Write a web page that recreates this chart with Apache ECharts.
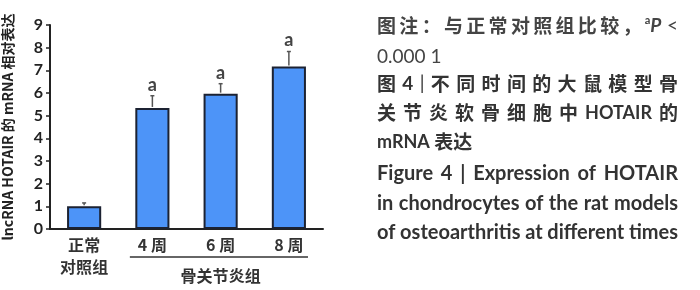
<!DOCTYPE html>
<html>
<head>
<meta charset="utf-8">
<script src="https://cdn.jsdelivr.net/npm/echarts@6/dist/echarts.min.js"></script>
<style>
  html, body { margin: 0; padding: 0; background: #fff; }
  #main { width: 700px; height: 290px; }
</style>
</head>
<body>
<div id="main"></div>
<script>
// 数据
const categories = ['正常\n对照组', '4 周', '6 周', '8 周'];
const means = [1.0, 5.34, 5.97, 7.17];
const errUp = [0.15, 0.54, 0.44, 0.66];
const sigMarks = ['', 'a', 'a', 'a'];
const groupLabel = '骨关节炎组';
const yName = 'lncRNA HOTAIR 的 mRNA 相对表达';

const CJK = '"Noto Sans CJK SC", sans-serif';
const LAT = 'Lato, "Open Sans", sans-serif';

// 测量文字宽度
const mctx = document.createElement('canvas').getContext('2d');
function measure(text, weight, size, family) {
  mctx.font = weight + ' ' + size + 'px ' + family;
  return mctx.measureText(text).width;
}

// 两端对齐一行文字，每个 token 由若干 part 组成
function justifyLine(tokens, x0, width, y, justify) {
  const els = [];
  const widths = tokens.map(t => t.reduce((s, p) => s + measure(p.text, p.weight, p.size, p.family), 0));
  const total = widths.reduce((a, b) => a + b, 0);
  let gap = justify && tokens.length > 1 ? (width - total) / (tokens.length - 1) : 0;
  if (justify) gap = Math.max(gap, 3);
  let x = x0;
  tokens.forEach((t, i) => {
    let px = x;
    t.forEach(p => {
      els.push({
        type: 'text',
        x: px,
        y: y + (p.dy || 0),
        style: {
          text: p.text,
          fontSize: p.size,
          fontWeight: p.weight,
          fontStyle: p.italic ? 'italic' : 'normal',
          fontFamily: p.family,
          fill: p.fill,
          align: 'left',
          verticalAlign: 'middle'
        }
      });
      px += measure(p.text, p.weight, p.size, p.family);
    });
    x += widths[i] + gap;
  });
  return els;
}

const CS = 19;   // 中文图注字号
const ES = 20;   // 英文图注字号
function cjkTokens(str, weight, fill) {
  return str.split('').filter(c => c !== ' ').map(c => [{ text: c, weight: weight, size: CS, family: CJK, fill: fill }]);
}
function wordTokens(str) {
  return str.split(' ').map(w => [{ text: w, weight: 'bold', size: ES, family: LAT, fill: '#333' }]);
}

const capX = 377, capW = 301;
let caption = [];
// 第一行
const line1 = cjkTokens('图注：与正常对照组比较，', 'bold', '#444');
line1.push([
  { text: 'a', weight: 'bold', size: 11, family: LAT, fill: '#444', dy: -6 },
  { text: 'P', weight: 'bold', size: 19, family: LAT, fill: '#444', italic: true },
  { text: ' <', weight: 'normal', size: 19, family: LAT, fill: '#444' }
]);
caption = caption.concat(justifyLine(line1, capX, capW, 26, true));
caption = caption.concat(justifyLine([[{ text: '0.000 1', weight: 'normal', size: 19, family: LAT, fill: '#444' }]], capX, capW, 57, false));
const line3 = [[{ text: '图', weight: 'bold', size: CS, family: CJK, fill: '#333' }],
  [{ text: '4', weight: 'bold', size: CS, family: LAT, fill: '#333' }],
  [{ text: '|', weight: 'normal', size: CS, family: LAT, fill: '#333' }]].concat(cjkTokens('不同时间的大鼠模型骨', 'bold', '#333'));
caption = caption.concat(justifyLine(line3, capX, capW, 84, true));
const line4 = cjkTokens('关节炎软骨细胞中', 'bold', '#333');
line4.push([{ text: 'HOTAIR', weight: 'bold', size: 18, family: LAT, fill: '#333' }]);
line4.push([{ text: '的', weight: 'bold', size: CS, family: CJK, fill: '#333' }]);
caption = caption.concat(justifyLine(line4, capX, capW, 113, true));
caption = caption.concat(justifyLine([[{ text: 'mRNA ', weight: 'bold', size: 18, family: LAT, fill: '#333' },
  { text: '表达', weight: 'bold', size: CS, family: CJK, fill: '#333' }]], capX, capW, 142, false));
caption = caption.concat(justifyLine(wordTokens('Figure 4 | Expression of HOTAIR'), capX, capW, 174, true));
caption = caption.concat(justifyLine(wordTokens('in chondrocytes of the rat models'), capX, capW, 204, true));
caption = caption.concat(justifyLine(wordTokens('of osteoarthritis at different times'), capX, capW, 233, true));

const chart = echarts.init(document.getElementById('main'), null, { renderer: 'canvas' });

chart.setOption({
  animation: false,
  grid: { left: 50, right: 377, top: 25, bottom: 61, containLabel: false },
  xAxis: {
    type: 'category',
    data: categories,
    axisLine: { lineStyle: { color: '#222', width: 2 } },
    axisTick: { alignWithLabel: true, length: 4, lineStyle: { color: '#222', width: 1.5 } },
    axisLabel: {
      color: '#333', fontSize: 16, fontWeight: 'bold', fontFamily: CJK,
      margin: 5, lineHeight: 22, interval: 0
    }
  },
  yAxis: {
    type: 'value',
    min: 0, max: 9, interval: 1,
    name: yName,
    nameLocation: 'middle',
    nameRotate: 90,
    nameGap: 35,
    nameTextStyle: { color: '#222', fontSize: 14, fontWeight: 'bold', fontFamily: CJK },
    axisLine: { show: true, lineStyle: { color: '#222', width: 2 } },
    axisTick: { show: true, length: 4, lineStyle: { color: '#222', width: 1.5 } },
    axisLabel: { color: '#222', fontSize: 16, fontWeight: 'bold', fontFamily: LAT, margin: 7 },
    splitLine: { show: false }
  },
  series: [
    {
      type: 'bar',
      data: means,
      barWidth: '50%',
      itemStyle: { color: '#4d94f8', borderColor: '#1c2232', borderWidth: 2 },
      z: 2
    },
    {
      // 误差线 + 显著性标记
      type: 'custom',
      data: means.map((m, i) => [i, m, m + errUp[i]]),
      z: 3,
      renderItem: function (params, api) {
        const top = api.coord([api.value(0), api.value(2)]);
        const base = api.coord([api.value(0), api.value(1)]);
        const idx = params.dataIndex;
        const children = [
          { type: 'line', shape: { x1: top[0], y1: base[1] - 1, x2: top[0], y2: top[1] },
            style: { stroke: '#555', lineWidth: 1.5 } },
          { type: 'line', shape: { x1: top[0] - 2, y1: top[1], x2: top[0] + 2, y2: top[1] },
            style: { stroke: '#555', lineWidth: 1.5 } }
        ];
        if (sigMarks[idx]) {
          children.push({ type: 'text', x: top[0], y: top[1] - 11,
            style: { text: sigMarks[idx], fontSize: 18, fontWeight: 'bold', fontFamily: LAT,
              fill: '#444', align: 'center', verticalAlign: 'middle' } });
        }
        return { type: 'group', children: children };
      }
    }
  ]
});

// 分组括线
const band = (700 - 50 - 377) / categories.length;
const xa = chart.convertToPixel({ xAxisIndex: 0 }, 1);
const xb = chart.convertToPixel({ xAxisIndex: 0 }, categories.length - 1);
const lineY = 257;
chart.setOption({
  graphic: [
    { type: 'line', shape: { x1: xa - band * 0.33, y1: lineY, x2: xb + band * 0.28, y2: lineY },
      style: { stroke: '#333', lineWidth: 1.5 } },
    { type: 'text', x: (xa + xb) / 2, y: 276,
      style: { text: groupLabel, fontSize: 16, fontWeight: 'bold', fontFamily: CJK, fill: '#333',
        align: 'center', verticalAlign: 'middle' } }
  ].concat(caption)
});

window.onresize = function () { chart.resize(); };
</script>
</body>
</html>
